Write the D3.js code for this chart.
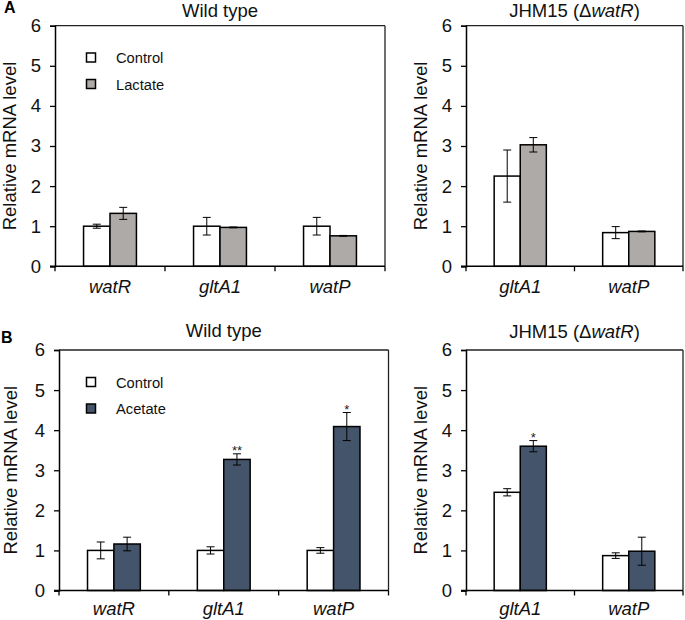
<!DOCTYPE html>
<html>
<head>
<meta charset="utf-8">
<script src="https://cdn.jsdelivr.net/npm/d3@7/dist/d3.min.js"></script>
<style>
  html, body { margin: 0; padding: 0; background: #fff; }
  svg { display: block; font-family: "Liberation Sans", Arial, sans-serif; }
</style>
</head>
<body>
<svg id="chart" width="685" height="620"></svg>
<script>
// ---------------- data ----------------
const wtCategories = ["watR", "gltA1", "watP"];
const mutCategories = ["gltA1", "watP"];
const yTicks = [0, 1, 2, 3, 4, 5, 6];

// Panel A (lactate)
const lacWTControl = [1.00, 1.00, 1.00];
const lacWTControlErr = [0.05, 0.22, 0.22];
const lacWTTreated = [1.32, 0.97, 0.76];
const lacWTTreatedErr = [0.15, 0.01, 0.01];
const lacMutControl = [2.25, 0.84];
const lacMutControlErr = [0.65, 0.15];
const lacMutTreated = [3.03, 0.87];
const lacMutTreatedErr = [0.18, 0.01];

// Panel B (acetate)
const aceWTControl = [1.00, 1.00, 1.00];
const aceWTControlErr = [0.21, 0.09, 0.07];
const aceWTTreated = [1.16, 3.27, 4.09];
const aceWTTreatedErr = [0.17, 0.14, 0.35];
const aceWTSig = ["", "**", "*"];
const aceMutControl = [2.45, 0.87];
const aceMutControlErr = [0.09, 0.07];
const aceMutTreated = [3.60, 0.98];
const aceMutTreatedErr = [0.14, 0.35];
const aceMutSig = ["*", ""];

const seriesNames = ["Control", "Treated"];
const colControl = "#ffffff";
const colLactate = "#aeaaa8";
const colAcetate = "#44546a";

// ---------------- drawing ----------------
const svg = d3.select("#chart");
const FONT = 18.5;

function panel(opts) {
  const g = svg.append("g");
  const x0 = d3.scaleBand().domain(opts.categories).range([opts.left, opts.right]).padding(0);
  const x1 = d3.scaleBand().domain(seriesNames).range([0, x0.bandwidth()])
    .paddingInner(0).paddingOuter(1.08);
  const y = d3.scaleLinear().domain([0, 6]).range([opts.bottom, opts.top]);

  // frame top & right
  g.append("line").attr("x1", opts.left).attr("x2", opts.right)
    .attr("y1", opts.top).attr("y2", opts.top).attr("stroke", "#222").attr("stroke-width", 1.3);
  g.append("line").attr("x1", opts.right).attr("x2", opts.right)
    .attr("y1", opts.top).attr("y2", opts.bottom).attr("stroke", "#222").attr("stroke-width", 1.3);

  // bars
  const rows = opts.categories.map((c, i) => ({
    cat: c,
    vals: [
      { s: "Control", v: opts.ctrl[i], e: opts.ctrlErr[i], fill: colControl },
      { s: "Treated", v: opts.trt[i], e: opts.trtErr[i], fill: opts.color }
    ],
    sig: opts.sig ? opts.sig[i] : ""
  }));

  const grp = g.selectAll("g.cat").data(rows).enter().append("g")
    .attr("transform", d => `translate(${x0(d.cat)},0)`);

  grp.selectAll("rect").data(d => d.vals).enter().append("rect")
    .attr("x", d => x1(d.s))
    .attr("width", x1.bandwidth())
    .attr("y", d => y(d.v))
    .attr("height", d => y(0) - y(d.v))
    .attr("fill", d => d.fill)
    .attr("stroke", "#000")
    .attr("stroke-width", 1.5);

  // error bars
  const eb = grp.selectAll("g.err").data(d => d.vals).enter().append("g");
  const cx = d => x1(d.s) + x1.bandwidth() / 2;
  eb.append("line").attr("x1", cx).attr("x2", cx)
    .attr("y1", d => y(d.v + d.e)).attr("y2", d => y(d.v - d.e))
    .attr("stroke", "#000").attr("stroke-width", 1);
  eb.append("line").attr("x1", d => cx(d) - 4).attr("x2", d => cx(d) + 4)
    .attr("y1", d => y(d.v + d.e)).attr("y2", d => y(d.v + d.e))
    .attr("stroke", "#000").attr("stroke-width", 1);
  eb.append("line").attr("x1", d => cx(d) - 4).attr("x2", d => cx(d) + 4)
    .attr("y1", d => y(d.v - d.e)).attr("y2", d => y(d.v - d.e))
    .attr("stroke", "#000").attr("stroke-width", 1);

  // significance
  grp.append("text")
    .attr("x", d => cx(d.vals[1]))
    .attr("y", d => y(d.vals[1].v + d.vals[1].e) + 1)
    .attr("text-anchor", "middle")
    .attr("font-size", 13)
    .attr("fill", "#222")
    .text(d => d.sig);

  // y axis
  const yAxis = d3.axisLeft(y).tickValues(yTicks).tickSize(5).tickPadding(9)
    .tickFormat(d3.format("d"));
  const ya = g.append("g").attr("transform", `translate(${opts.left},0)`).call(yAxis);
  ya.select(".domain").attr("stroke", "#000").attr("stroke-width", 1.5);
  ya.selectAll(".tick line").attr("stroke", "#000").attr("stroke-width", 1.3);
  ya.selectAll(".tick text").attr("font-size", FONT).attr("font-family", "Liberation Sans, Arial, sans-serif").attr("fill", "#111");

  // x axis: ticks at category boundaries
  const bounds = opts.categories.map(c => x0(c)).concat([opts.right]);
  g.append("line").attr("x1", opts.left - 5).attr("x2", opts.right)
    .attr("y1", y(0)).attr("y2", y(0)).attr("stroke", "#000").attr("stroke-width", 1.5);
  g.selectAll("line.xt").data(bounds).enter().append("line")
    .attr("x1", d => d).attr("x2", d => d)
    .attr("y1", y(0)).attr("y2", y(0) + 5)
    .attr("stroke", "#000").attr("stroke-width", 1.3);
  g.selectAll("text.xl").data(opts.categories).enter().append("text")
    .attr("x", d => x0(d) + x0.bandwidth() / 2)
    .attr("y", opts.catY)
    .attr("text-anchor", "middle")
    .attr("font-size", FONT)
    .attr("font-style", "italic")
    .attr("fill", "#111")
    .text(d => d);

  // y label
  g.append("text")
    .attr("transform", `translate(${opts.ylabX},${(opts.top + opts.bottom) / 2}) rotate(-90)`)
    .attr("text-anchor", "middle")
    .attr("font-size", FONT)
    .attr("fill", "#111")
    .text("Relative mRNA level");

  // title
  const t = g.append("text")
    .attr("x", (opts.left + opts.right) / 2)
    .attr("y", opts.titleY)
    .attr("text-anchor", "middle")
    .attr("font-size", FONT)
    .attr("fill", "#111");
  if (opts.mutant) {
    t.append("tspan").text("JHM15 (\u0394");
    t.append("tspan").attr("font-style", "italic").text("watR");
    t.append("tspan").text(")");
  } else {
    t.text("Wild type");
  }

  // legend
  if (opts.legend) {
    const lg = g.append("g");
    const items = [{ n: "Control", c: colControl }, { n: opts.legend, c: opts.color }];
    items.forEach((it, i) => {
      const yy = opts.legendY + i * 26.5;
      lg.append("rect").attr("x", 86.5).attr("y", yy).attr("width", 9).attr("height", 9)
        .attr("fill", it.c).attr("stroke", "#000").attr("stroke-width", 1.5);
      lg.append("text").attr("x", 116).attr("y", yy + 10).attr("font-size", 14.7)
        .attr("fill", "#111").text(it.n);
    });
  }
}

// Panel A
panel({ categories: wtCategories, left: 55, right: 385, top: 25.7, bottom: 266.3,
  ctrl: lacWTControl, ctrlErr: lacWTControlErr, trt: lacWTTreated, trtErr: lacWTTreatedErr,
  color: colLactate, catY: 293, ylabX: 16, titleY: 16.5, legend: "Lactate", legendY: 53 });
panel({ categories: mutCategories, left: 466, right: 683, top: 25.7, bottom: 266.3, mutant: true,
  ctrl: lacMutControl, ctrlErr: lacMutControlErr, trt: lacMutTreated, trtErr: lacMutTreatedErr,
  color: colLactate, catY: 293, ylabX: 427, titleY: 16.5 });

// Panel B
panel({ categories: wtCategories, left: 59, right: 388.5, top: 350, bottom: 590.5,
  ctrl: aceWTControl, ctrlErr: aceWTControlErr, trt: aceWTTreated, trtErr: aceWTTreatedErr,
  sig: aceWTSig, color: colAcetate, catY: 615, ylabX: 16.5, titleY: 337, legend: "Acetate", legendY: 377.5 });
panel({ categories: mutCategories, left: 466, right: 683, top: 350, bottom: 590.5, mutant: true,
  ctrl: aceMutControl, ctrlErr: aceMutControlErr, trt: aceMutTreated, trtErr: aceMutTreatedErr,
  sig: aceMutSig, color: colAcetate, catY: 615, ylabX: 427, titleY: 338 });

// panel letters
svg.append("text").attr("x", 4).attr("y", 13).attr("font-size", 16).attr("font-weight", "bold").text("A");
svg.append("text").attr("x", 1).attr("y", 342.5).attr("font-size", 16).attr("font-weight", "bold").text("B");
</script>
</body>
</html>
